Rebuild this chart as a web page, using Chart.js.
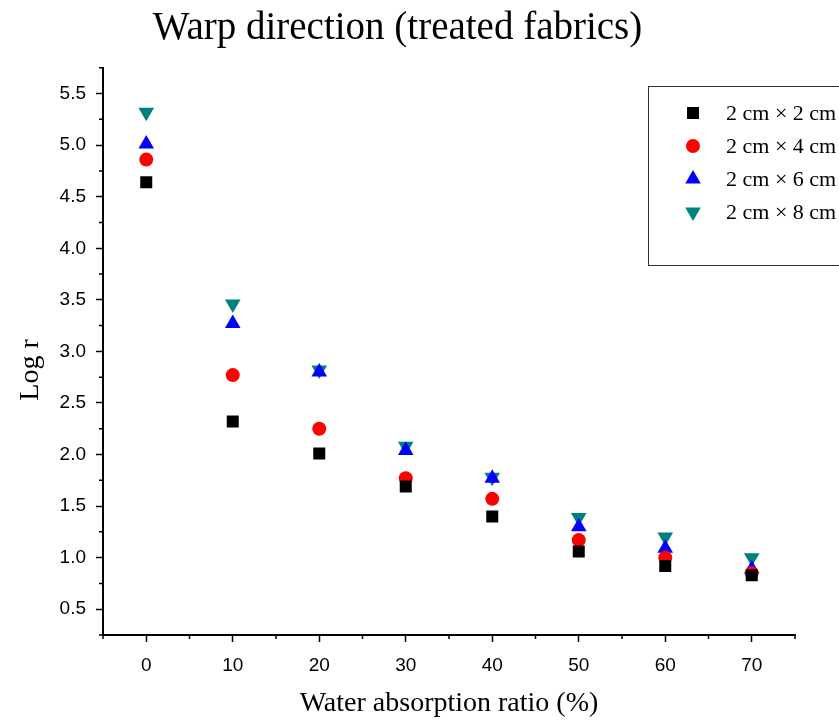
<!DOCTYPE html>
<html lang="en">
<head>
<meta charset="UTF-8">
<title>Warp direction (treated fabrics)</title>
<script src="https://cdn.jsdelivr.net/npm/chart.js"></script>
<style>
  body { margin: 0; background: #fff; }
  .wrap { width: 839px; height: 720px; }
</style>
</head>
<body>
<div class="wrap"><canvas id="chart" width="839" height="720"></canvas></div>
<script>
  // water absorption ratio (%)
  const ratios = [0, 10, 20, 30, 40, 50, 60, 70];

  const labels = ['2 cm \u00d7 2 cm', '2 cm \u00d7 4 cm', '2 cm \u00d7 6 cm', '2 cm \u00d7 8 cm'];

  // Log r per sample size
  const size2x2 = [4.64, 2.32, 2.01, 1.69, 1.40, 1.06, 0.92, 0.83];
  const size2x4 = [4.86, 2.77, 2.25, 1.77, 1.57, 1.17, 1.00, 0.85];
  const size2x6 = [5.01, 3.27, 2.80, 2.04, 1.77, 1.30, 1.09, 0.89];
  const size2x8 = [5.32, 3.46, 2.82, 2.08, 1.78, 1.39, 1.20, 1.00];

  const xTicks = [0, 10, 20, 30, 40, 50, 60, 70];
  const xMinor = [-5, 5, 15, 25, 35, 45, 55, 65, 75];
  const yTicks = [0.5, 1.0, 1.5, 2.0, 2.5, 3.0, 3.5, 4.0, 4.5, 5.0, 5.5];
  const yMinor = [0.25, 0.75, 1.25, 1.75, 2.25, 2.75, 3.25, 3.75, 4.25, 4.75, 5.25, 5.75];

  function pts(values) {
    return values.map((v, i) => ({ x: ratios[i], y: v }));
  }

  const serif = '"Liberation Serif", "Times New Roman", serif';
  const sans = '"Liberation Sans", Arial, sans-serif';

  // minor ticks, y title and the boxed legend
  const extras = {
    id: 'extras',
    afterDraw(chart) {
      const ctx = chart.ctx;
      const xs = chart.scales.x, ys = chart.scales.y;
      const area = chart.chartArea;
      ctx.save();
      ctx.strokeStyle = '#000';
      ctx.lineWidth = 1.5;
      ctx.beginPath();
      xMinor.forEach(v => {
        const px = xs.getPixelForValue(v);
        ctx.moveTo(px, area.bottom);
        ctx.lineTo(px, area.bottom + 4);
      });
      yMinor.forEach(v => {
        const py = ys.getPixelForValue(v);
        ctx.moveTo(area.left, py);
        ctx.lineTo(area.left - 4, py);
      });
      ctx.stroke();

      // y axis title
      ctx.save();
      ctx.translate(31, 370);
      ctx.rotate(-Math.PI / 2);
      ctx.font = '28px ' + serif;
      ctx.fillStyle = '#000';
      ctx.textAlign = 'center';
      ctx.textBaseline = 'middle';
      ctx.fillText('Log r', 0, 0);
      ctx.restore();

      // legend
      ctx.strokeStyle = '#333';
      ctx.lineWidth = 1;
      ctx.strokeRect(648.5, 86.5, 220, 179);
      ctx.font = '22px ' + serif;
      ctx.textBaseline = 'middle';
      chart.data.datasets.forEach((ds, i) => {
        const y = 113 + i * 33;
        ctx.fillStyle = ds.backgroundColor;
        Chart.helpers.drawPoint(ctx, {
          pointStyle: ds.pointStyle,
          radius: ds.pointRadius,
          rotation: ds.pointRotation || 0,
          borderWidth: 0
        }, 693, y);
        ctx.fillStyle = '#000';
        ctx.fillText(ds.label, 726, y + 1);
      });
      ctx.restore();
    }
  };

  function makeSet(label, values, color, style, radius, rot) {
    return {
      label: label,
      data: pts(values),
      backgroundColor: color,
      borderColor: color,
      borderWidth: 0,
      pointStyle: style,
      pointRadius: radius,
      pointRotation: rot,
      showLine: false
    };
  }

  new Chart(document.getElementById('chart').getContext('2d'), {
    type: 'scatter',
    data: {
      datasets: [
        makeSet(labels[0], size2x2, '#000000', 'rect', 8.5, 0),
        makeSet(labels[1], size2x4, '#ff0000', 'circle', 7, 0),
        makeSet(labels[2], size2x6, '#0000ff', 'triangle', 9, 0),
        makeSet(labels[3], size2x8, '#008080', 'triangle', 9, 180)
      ]
    },
    options: {
      responsive: false,
      animation: false,
      layout: { padding: { left: 0, right: 44, top: 0, bottom: 0 } },
      plugins: {
        legend: { display: false },
        tooltip: { enabled: false },
        title: {
          display: true,
          text: 'Warp direction (treated fabrics)',
          color: '#000',
          font: { family: serif, size: 39, weight: 'normal' },
          padding: { top: 5, bottom: 16 }
        }
      },
      scales: {
        x: {
          type: 'linear',
          min: -5,
          max: 75,
          afterBuildTicks: s => { s.ticks = xTicks.map(v => ({ value: v })); },
          afterFit: s => { s.height = 85; },
          grid: { drawOnChartArea: false, drawTicks: true, tickLength: 7, tickColor: '#000', tickWidth: 1.5 },
          border: { color: '#000', width: 2 },
          ticks: { color: '#000', font: { family: sans, size: 19 }, padding: 12, maxRotation: 0 },
          title: {
            display: true,
            text: 'Water absorption ratio (%)',
            color: '#000',
            font: { family: serif, size: 28 },
            padding: { top: 0, bottom: 0 }
          }
        },
        y: {
          type: 'linear',
          min: 0.25,
          max: 5.75,
          afterBuildTicks: s => { s.ticks = yTicks.map(v => ({ value: v })); },
          afterFit: s => { s.width = 103; },
          grid: { drawOnChartArea: false, drawTicks: true, tickLength: 7, tickColor: '#000', tickWidth: 1.5 },
          border: { color: '#000', width: 2 },
          ticks: { color: '#000', font: { family: sans, size: 19 }, padding: 10, callback: v => v.toFixed(1) },
          title: { display: false }
        }
      }
    },
    plugins: [extras]
  });
</script>
</body>
</html>
